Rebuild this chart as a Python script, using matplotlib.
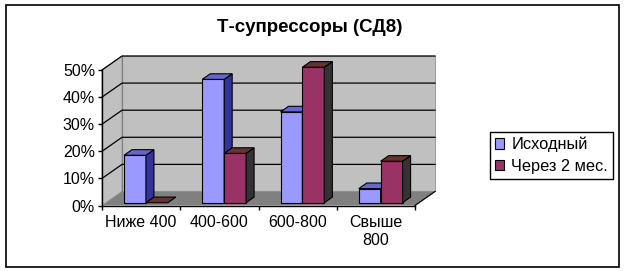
import matplotlib.pyplot as plt
from matplotlib.patches import Polygon, Rectangle, Patch

plt.rcParams["font.family"] = ["Liberation Sans", "DejaVu Sans"]

categories = ["Ниже 400", "400-600", "600-800", "Свыше\n800"]
initial = [17.5, 45.5, 33.5, 5.2]
after_2m = [0.0, 18.2, 50.0, 15.3]
series_names = ["Исходный", "Через 2 мес."]
yticks = [0, 10, 20, 30, 40, 50]
ylabels = ["0%", "10%", "20%", "30%", "40%", "50%"]

# colours: front, side, top
blue = ("#9999ff", "#333399", "#6666cc")
red = ("#993366", "#333333", "#663333")

W, H = 624, 271
fig = plt.figure(figsize=(W / 100, H / 100), dpi=100)
fig.patch.set_facecolor("white")
fig.patches.append(Rectangle((6 / W, 1 - 267 / H), 613 / W, 262 / H, transform=fig.transFigure,
                             fill=False, edgecolor="black", linewidth=1.2))

# front plane: x 102..415 px, y 205.5..70 px
ax = fig.add_axes([102 / W, 1 - 205.5 / H, 313 / W, 135.5 / H])
ax.set_xlim(0, 4)
ax.set_ylim(0, 50)
ax.set_facecolor("none")

DX, DY = 0.256, 5.17   # depth offset in data units
f0, fd = 0.2, 0.4      # bar front depth, bar depth
n = len(categories)

def poly(pts, fc, ec="black", lw=0.8, z=1):
    ax.add_patch(Polygon(pts, closed=True, facecolor=fc, edgecolor=ec, linewidth=lw,
                         clip_on=False, zorder=z, joinstyle="miter"))

# walls and floor
top = yticks[-1]
poly([(0, 0), (DX, DY), (DX, top + DY), (0, top)], "#c0c0c0", ec="#a0a0a0", z=0)
poly([(DX, DY), (n + DX, DY), (n + DX, top + DY), (DX, top + DY)], "#c0c0c0", ec="#a0a0a0", z=0)
poly([(0, 0), (n, 0), (n + DX, DY), (DX, DY)], "#808080", ec="none", z=0.5)
ax.plot([n, n + DX], [0, DY], color="black", lw=0.9, clip_on=False, zorder=0.6)
ax.plot([DX, DX], [DY, top + DY], color="#808080", lw=0.8, clip_on=False, zorder=0.4)
for t in yticks[1:]:
    ax.plot([0, DX, n + DX], [t, t + DY, t + DY], color="black", lw=0.9, clip_on=False, zorder=0.5)

# bars
bw = 0.28
for i in range(n):
    for j, (vals, col) in enumerate([(initial, blue), (after_2m, red)]):
        v = vals[i]
        x0 = i + 0.5 - bw + j * bw + f0 * DX + 0.01
        x1 = x0 + bw
        yb = f0 * DY
        yt = v + f0 * DY
        ddx, ddy = fd * DX, fd * DY
        z = 2 + i * 2 + j
        if v > 0:
            poly([(x0, yb), (x1, yb), (x1, yt), (x0, yt)], col[0], z=z)
            poly([(x1, yb), (x1 + ddx, yb + ddy), (x1 + ddx, yt + ddy), (x1, yt)], col[1], z=z)
        poly([(x0, yt), (x1, yt), (x1 + ddx, yt + ddy), (x0 + ddx, yt + ddy)], col[2], z=z)

for s in ["top", "right"]:
    ax.spines[s].set_visible(False)
for s in ["left", "bottom"]:
    ax.spines[s].set_linewidth(1.0)
    ax.spines[s].set_zorder(1)
ax.set_yticks(yticks)
ax.set_yticklabels(ylabels, fontsize=11.5)
ax.tick_params(axis="y", length=3, width=1, pad=2)
ax.set_xticks([i + 0.5 for i in range(n)])
ax.set_xticklabels(categories, fontsize=11.5, linespacing=1.25)
ax.set_xticks(range(n + 1), minor=True)
ax.tick_params(axis="x", which="major", length=0, pad=7)
ax.tick_params(axis="x", which="minor", length=3, width=1)

fig.text(310 / W, 1 - 28 / H, "Т-супрессоры (СД8)", ha="center", va="center",
         fontsize=13.5, fontweight="bold")

handles = [Patch(facecolor=blue[0], edgecolor="black", linewidth=0.8),
           Patch(facecolor=red[0], edgecolor="black", linewidth=0.8)]
leg = fig.legend(handles, series_names, loc="upper left", bbox_to_anchor=(490 / W, 1 - 132 / H),
                 fontsize=11.8, frameon=True, fancybox=False, edgecolor="black", framealpha=1,
                 handlelength=0.55, handleheight=0.6, handletextpad=0.45, borderpad=0.3,
                 labelspacing=0.4, borderaxespad=0)
leg.get_frame().set_linewidth(1.0)

fig.savefig("out.png", dpi=100)
